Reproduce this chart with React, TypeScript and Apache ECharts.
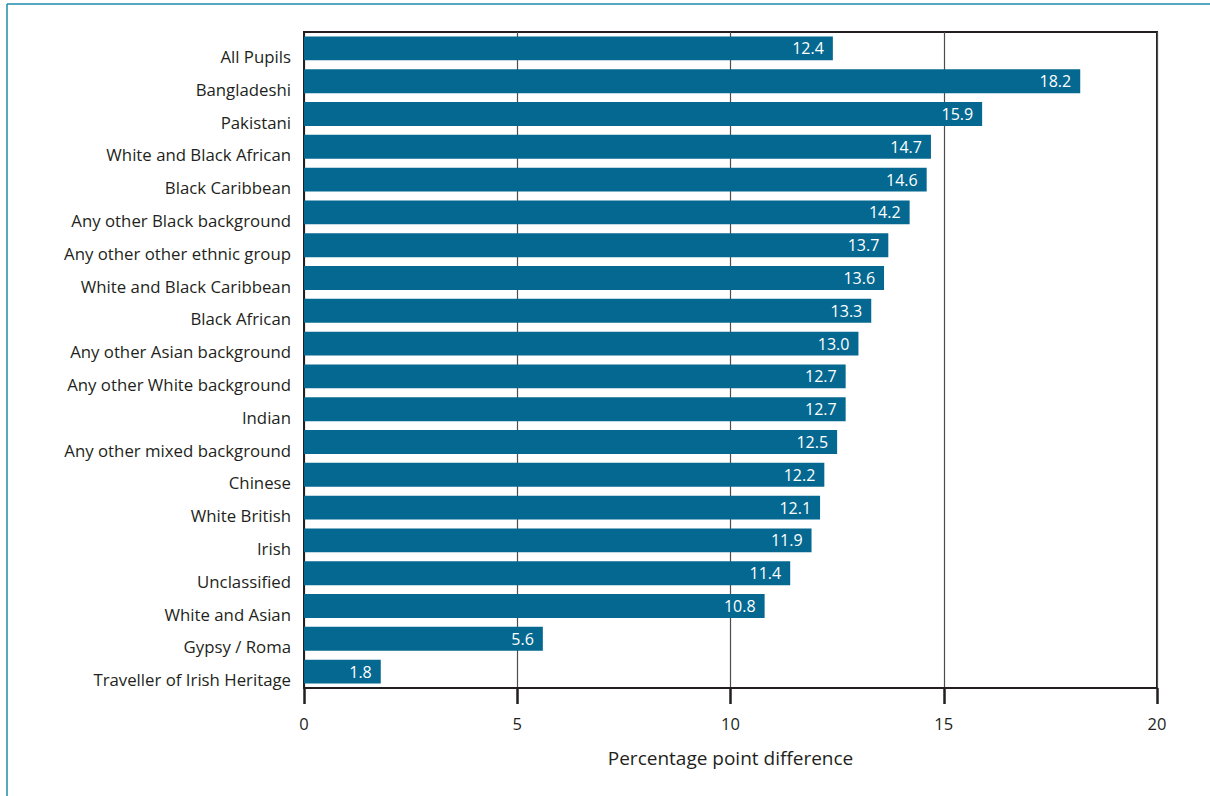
import React, { useEffect, useRef } from "react";
import * as echarts from "echarts";

const categories = [
  "All Pupils",
  "Bangladeshi",
  "Pakistani",
  "White and Black African",
  "Black Caribbean",
  "Any other Black background",
  "Any other other ethnic group",
  "White and Black Caribbean",
  "Black African",
  "Any other Asian background",
  "Any other White background",
  "Indian",
  "Any other mixed background",
  "Chinese",
  "White British",
  "Irish",
  "Unclassified",
  "White and Asian",
  "Gypsy / Roma",
  "Traveller of Irish Heritage",
];
const values = [12.4, 18.2, 15.9, 14.7, 14.6, 14.2, 13.7, 13.6, 13.3, 13.0, 12.7, 12.7, 12.5, 12.2, 12.1, 11.9, 11.4, 10.8, 5.6, 1.8];
const xTicks = [0, 5, 10, 15, 20];
const xAxisTitle = "Percentage point difference";

const FONT = "'Open Sans', 'Noto Sans', sans-serif";

export default function App() {
  const ref = useRef<HTMLDivElement>(null);
  useEffect(() => {
    const chart = echarts.init(ref.current!, null, { renderer: "svg" });
    chart.setOption({
      animation: false,
      backgroundColor: "#ffffff",
      grid: {
        left: 304,
        right: 53,
        top: 32,
        bottom: 108,
        show: true,
        borderColor: "#231f20",
        borderWidth: 2,
        backgroundColor: "transparent",
      },
      xAxis: {
        type: "value",
        min: xTicks[0],
        max: xTicks[xTicks.length - 1],
        interval: 5,
        name: xAxisTitle,
        nameLocation: "middle",
        nameGap: 60,
        nameTextStyle: { fontFamily: FONT, fontSize: 19, color: "#231f20" },
        axisLine: { show: true, lineStyle: { color: "#231f20", width: 2 } },
        axisTick: { show: true, length: 16, lineStyle: { color: "#231f20", width: 2.5 } },
        axisLabel: { fontFamily: FONT, fontSize: 16.5, color: "#231f20", margin: 27 },
        splitLine: { show: true, lineStyle: { color: "#4d4d4d", width: 1.2 } },
      },
      yAxis: {
        type: "category",
        data: categories,
        inverse: true,
        axisLine: { show: true, lineStyle: { color: "#231f20", width: 2 } },
        axisTick: { show: false },
        axisLabel: {
          fontFamily: FONT,
          fontSize: 16.8,
          color: "#231f20",
          margin: 13,
          verticalAlign: "top",
          lineHeight: 16,
        },
        splitLine: { show: false },
      },
      series: [
        {
          type: "bar",
          data: values,
          barCategoryGap: "27%",
          itemStyle: { color: "#046891" },
          label: {
            show: true,
            position: "insideRight",
            distance: 9,
            color: "#ffffff",
            fontFamily: FONT,
            fontSize: 16,
            formatter: (p: any) => Number(p.value).toFixed(1),
          },
          z: 3,
        },
      ],
      graphic: [
        {
          type: "line",
          shape: { x1: 7, y1: 4, x2: 1210, y2: 4 },
          style: { stroke: "#1c8bab", lineWidth: 1.5 },
        },
        {
          type: "line",
          shape: { x1: 7, y1: 4, x2: 7, y2: 796 },
          style: { stroke: "#1c8bab", lineWidth: 1.5 },
        },
      ],
    });
    return () => chart.dispose();
  }, []);
  return (
    <div
      ref={ref}
      style={{ position: "fixed", left: 0, top: 0, width: 1210, height: 796 }}
    />
  );
}
